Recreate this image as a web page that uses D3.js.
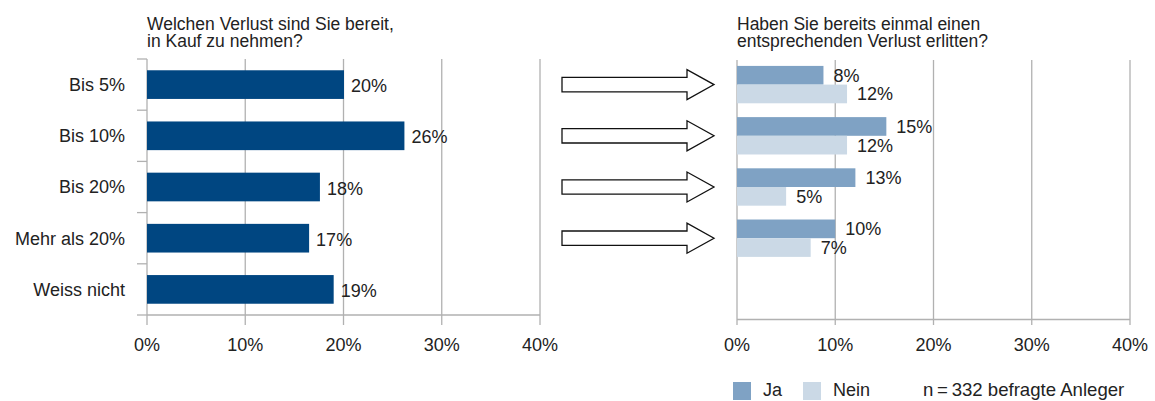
<!DOCTYPE html>
<html>
<head>
<meta charset="utf-8">
<script src="https://cdn.jsdelivr.net/npm/d3@7"></script>
<style>
	body { margin: 0; background: #fff; }
	text { font-family: "Liberation Sans", Arial, sans-serif; font-size: 18px; fill: #222; }
	.title { font-size: 17.5px; }
</style>
</head>
<body>
<svg id="chart" width="1155" height="401"></svg>
<script>
// data
const categories = ['Bis 5%', 'Bis 10%', 'Bis 20%', 'Mehr als 20%', 'Weiss nicht'];
const tolerance = [20.05, 26.2, 17.6, 16.5, 19.0];
const toleranceLabels = ['20%', '26%', '18%', '17%', '19%'];

const lossCategories = ['Bis 5%', 'Bis 10%', 'Bis 20%', 'Mehr als 20%'];
const lossJa = [8.8, 15.2, 12.05, 10.0];
const lossNein = [11.2, 11.2, 5.0, 7.5];
const jaLabels = ['8%', '15%', '13%', '10%'];
const neinLabels = ['12%', '12%', '5%', '7%'];
const series = ['Ja', 'Nein'];

const xTicks = [0, 10, 20, 30, 40];

const colors = { left: '#004681', Ja: '#7fa2c4', Nein: '#cbd9e6', grid: '#b1b1b1' };

let svg = d3.select('#chart');

let rows = d3.scaleBand()
	.domain(categories)
	.range([59, 315]);

main();

function main() {

	////// left: Welchen Verlust ... //////
	let xl = d3.scaleLinear().domain([0, 40]).range([147, 540]);
	let left = svg.append('g');

	left.append('text').attr('class', 'title').attr('x', 147).attr('y', 29.5).text('Welchen Verlust sind Sie bereit,');
	left.append('text').attr('class', 'title').attr('x', 147).attr('y', 47).text('in Kauf zu nehmen?');

	// grid
	left.append('g').selectAll('line')
		.data(xTicks.slice(1))
		.enter().append('line')
		.attr('x1', d => xl(d)).attr('x2', d => xl(d))
		.attr('y1', 59).attr('y2', 325)
		.attr('stroke', colors.grid).attr('stroke-width', 1.3);

	// y axis with ticks between the rows
	left.append('line')
		.attr('x1', xl(0)).attr('x2', xl(0))
		.attr('y1', 59).attr('y2', 325)
		.attr('stroke', colors.grid).attr('stroke-width', 1.3);
	left.append('g').selectAll('line')
		.data(categories.concat(['end']))
		.enter().append('line')
		.attr('x1', xl(0) - 10).attr('x2', xl(0))
		.attr('y1', d => d === 'end' ? 315 : rows(d))
		.attr('y2', d => d === 'end' ? 315 : rows(d))
		.attr('stroke', colors.grid).attr('stroke-width', 1.3);
	left.append('line')
		.attr('x1', xl(0)).attr('x2', xl(40))
		.attr('y1', 315).attr('y2', 315)
		.attr('stroke', colors.grid).attr('stroke-width', 1.3);

	left.append('g').selectAll('text')
		.data(xTicks)
		.enter().append('text')
		.attr('x', d => xl(d)).attr('y', 351)
		.attr('text-anchor', 'middle')
		.text(d => d + '%');

	left.append('g').selectAll('text')
		.data(categories)
		.enter().append('text')
		.attr('x', 125)
		.attr('y', d => rows(d) + rows.bandwidth() / 2)
		.attr('dy', '0.36em')
		.attr('text-anchor', 'end')
		.text(d => d);

	let bh = rows.bandwidth() * 0.56;
	left.append('g').selectAll('rect')
		.data(tolerance)
		.enter().append('rect')
		.attr('x', xl(0))
		.attr('y', (d, i) => rows(categories[i]) + (rows.bandwidth() - bh) / 2)
		.attr('width', d => xl(d) - xl(0))
		.attr('height', bh)
		.attr('fill', colors.left);

	left.append('g').selectAll('text')
		.data(tolerance)
		.enter().append('text')
		.attr('x', d => xl(d) + 7)
		.attr('y', (d, i) => rows(categories[i]) + rows.bandwidth() / 2)
		.attr('dy', '0.42em')
		.text((d, i) => toleranceLabels[i]);

	////// arrows //////
	svg.append('g').selectAll('path')
		.data(lossCategories)
		.enter().append('path')
		.attr('d', d => {
			let c = rows(d) + rows.bandwidth() / 2;
			return 'M562,' + (c - 7.2) + 'H687V' + (c - 15) + 'L714,' + c +
				'L687,' + (c + 15) + 'V' + (c + 7.2) + 'H562Z';
		})
		.attr('fill', '#fff').attr('stroke', '#111').attr('stroke-width', 1.3);

	////// right: Haben Sie bereits ... //////
	let xr = d3.scaleLinear().domain([0, 40]).range([737, 1130]);
	let inner = d3.scaleBand().domain(series).range([0, rows.bandwidth()]).paddingOuter(0.37);
	let right = svg.append('g');

	right.append('text').attr('class', 'title').attr('x', 737).attr('y', 29.5).text('Haben Sie bereits einmal einen');
	right.append('text').attr('class', 'title').attr('x', 737).attr('y', 47).text('entsprechenden Verlust erlitten?');

	right.append('g').selectAll('line')
		.data(xTicks)
		.enter().append('line')
		.attr('x1', d => xr(d)).attr('x2', d => xr(d))
		.attr('y1', 60).attr('y2', 325)
		.attr('stroke', colors.grid).attr('stroke-width', 1.3);
	right.append('line')
		.attr('x1', xr(0)).attr('x2', xr(40))
		.attr('y1', 319.5).attr('y2', 319.5)
		.attr('stroke', colors.grid).attr('stroke-width', 1.3);

	right.append('g').selectAll('text')
		.data(xTicks)
		.enter().append('text')
		.attr('x', d => xr(d)).attr('y', 351)
		.attr('text-anchor', 'middle')
		.text(d => d + '%');

	let table = [];
	lossCategories.forEach((c, i) => {
		table.push({ cat: c, s: 'Ja', v: lossJa[i], label: jaLabels[i] });
		table.push({ cat: c, s: 'Nein', v: lossNein[i], label: neinLabels[i] });
	});

	right.append('g').selectAll('rect')
		.data(table)
		.enter().append('rect')
		.attr('x', xr(0))
		.attr('y', d => rows(d.cat) + inner(d.s))
		.attr('width', d => xr(d.v) - xr(0))
		.attr('height', inner.bandwidth())
		.attr('fill', d => colors[d.s]);

	right.append('g').selectAll('text')
		.data(table)
		.enter().append('text')
		.attr('x', d => xr(d.v) + 10)
		.attr('y', d => rows(d.cat) + inner(d.s) + inner.bandwidth() / 2)
		.attr('dy', '0.36em')
		.text(d => d.label);

	////// legend //////
	let legend = svg.append('g');
	let lx = { Ja: 733, Nein: 803 };
	series.forEach(s => {
		legend.append('rect')
			.attr('x', lx[s]).attr('y', 382)
			.attr('width', 18).attr('height', 18)
			.attr('fill', colors[s]);
		legend.append('text')
			.attr('x', lx[s] + 30).attr('y', 396)
			.text(s);
	});
	legend.append('text').attr('x', 923).attr('y', 396)
		.style('font-size', '18.6px')
		.text('n\u2009=\u2009332 befragte Anleger');
}
</script>
</body>
</html>
